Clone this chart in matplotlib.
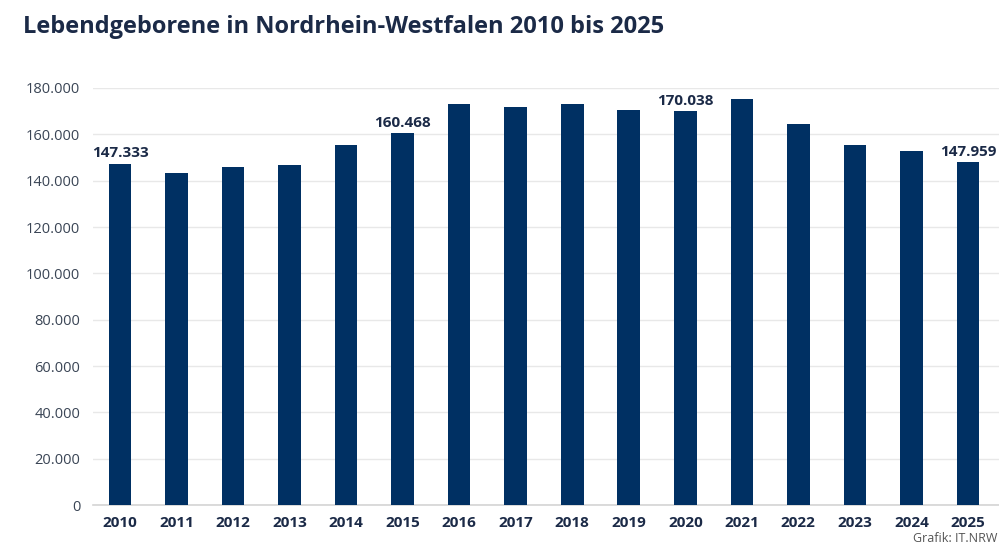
import matplotlib.pyplot as plt
from matplotlib.ticker import FuncFormatter

jahre = [str(j) for j in range(2010, 2026)]
geborene = [147333, 143300, 146000, 146600, 155300, 160468, 173100, 171800,
            173100, 170300, 170038, 175300, 164400, 155600, 153000, 147959]
beschriftet = ['2010', '2015', '2020', '2025']

navy = '#003063'
text_dark = '#1b2a47'

plt.rcParams['font.family'] = ['Open Sans', 'DejaVu Sans']

fig = plt.figure(figsize=(9.99, 5.52), dpi=100)
ax = fig.add_axes([0.093, 0.0851, 0.907, 0.7555])

x = list(range(len(jahre)))
bars = ax.bar(x, geborene, width=0.40, color=navy, zorder=3)

for xi, jahr, wert in zip(x, jahre, geborene):
    if jahr in beschriftet:
        ax.text(xi, wert + 1500, f'{wert:,}'.replace(',', '.'), ha='center', va='bottom',
                fontsize=11, fontweight='bold', color=text_dark, clip_on=False)

ax.set_xlim(-0.48, 15.55)
ax.set_ylim(0, 180000)
ax.set_yticks(range(0, 180001, 20000))
ax.yaxis.set_major_formatter(FuncFormatter(lambda v, p: f'{int(v):,}'.replace(',', '.')))
ax.set_xticks(x)
ax.set_xticklabels(jahre, fontsize=11, fontweight='bold', color=text_dark)
ax.tick_params(axis='y', labelsize=10.5, labelcolor='#3a4555', length=0, pad=9)
ax.tick_params(axis='x', length=0, pad=8)

ax.grid(axis='y', color='#e8e8e8', linewidth=1, zorder=0)
for s in ['top', 'right', 'left']:
    ax.spines[s].set_visible(False)
ax.spines['bottom'].set_color('#d4d4d4')
ax.spines['bottom'].set_linewidth(1.2)

fig.text(0.023, 0.94, 'Lebendgeborene in Nordrhein-Westfalen 2010 bis 2025',
         fontsize=17, fontweight='bold', color=text_dark, ha='left', va='baseline')
fig.text(0.998, 0.012, 'Grafik: IT.NRW', fontsize=9, color='#555555', ha='right', va='bottom')

fig.savefig('out.png', dpi=100)
